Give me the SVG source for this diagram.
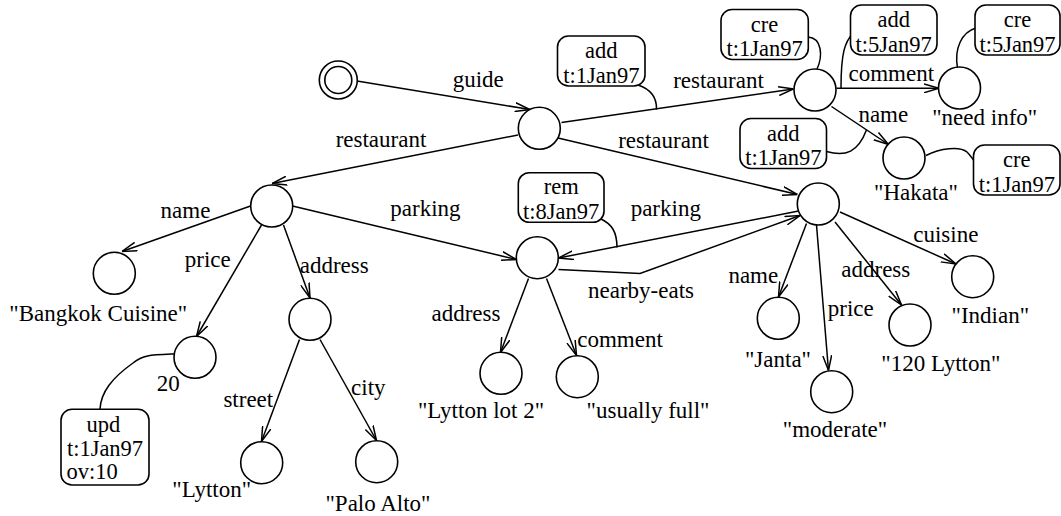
<svg xmlns="http://www.w3.org/2000/svg" width="1061" height="516" viewBox="0 0 1061 516">
<style>
text{font-family:"Times New Roman","Liberation Serif",Tinos,serif;font-size:23px;fill:#000;text-anchor:middle}
.bt{font-size:22.5px}
.n{fill:#fff;stroke:#000;stroke-width:1.6}
.b{fill:#fff;stroke:#000;stroke-width:1.6}
.e{fill:none;stroke:#000;stroke-width:1.5;marker-end:url(#arr)}
.a{fill:none;stroke:#000;stroke-width:1.5}
</style>
<defs>
<marker id="arr" viewBox="0 0 15 10" refX="15" refY="5" markerWidth="15" markerHeight="10" orient="auto" markerUnits="userSpaceOnUse">
<path d="M0,0.6 L15,5 L0,9.4" fill="none" stroke="#000" stroke-width="1.5"/>
</marker>
</defs>
<rect width="1061" height="516" fill="#fff"/>

<g id="connectors">
<path class="e" d="M357,81 L530,109.5"/>
<path class="e" d="M561.5,122.5 L793.5,89"/>
<path class="e" d="M518,135 L272,183.5"/>
<path class="e" d="M558,138 L797.5,194.5"/>
<path class="e" d="M836.5,88.3 L939,88.3"/>
<path class="e" d="M831.5,106.5 L888.5,144.5"/>
<path class="e" d="M250.5,206 L122,251.5"/>
<path class="e" d="M261.5,225 L196.5,336.5"/>
<path class="e" d="M283.5,225 L310,298"/>
<path class="e" d="M299.5,339.5 L261.5,441.5"/>
<path class="e" d="M320,339.5 L376.5,440.5"/>
<path class="e" d="M292.5,206 L516.5,259.5"/>
<path class="e" d="M798.5,211 L558.5,258"/>
<path class="e" d="M558.5,269.5 L640,273.5 L800,215.5"/>
<path class="e" d="M528.5,278.5 L500.5,352.5"/>
<path class="e" d="M546.5,278.5 L576.5,355.5"/>
<path class="e" d="M806.5,223.5 L778.5,297"/>
<path class="e" d="M816.5,225 L828.5,370.5"/>
<path class="e" d="M835,222 L901.5,305"/>
<path class="e" d="M840,212 L956,264"/>
</g>

<g id="annotation-links">
<path class="a" d="M638,85 C650,89 657,96 656.5,109.5"/>
<path class="a" d="M808,37 C822,38 823,56 817,69"/>
<path class="a" d="M853,33 C845,42 841,52 841,88.3"/>
<path class="a" d="M976,28 C962,32 954,48 957.5,68"/>
<path class="a" d="M826.5,151.5 C846,157 858,152 866.5,130"/>
<path class="a" d="M926,155.5 C940,148 960,146 967,152 C970,155 972,158 973.5,160"/>
<path class="a" d="M600,218.5 C612,224 617,232 617,247.5"/>
<path class="a" d="M174,354 C150,355 143,355 133,363 C112,378 101,392 100,409"/>
</g>

<g id="edge-labels">
<text x="478.3" y="87">guide</text>
<text x="381" y="146.7">restaurant</text>
<text x="718.5" y="88">restaurant</text>
<text x="663.5" y="148">restaurant</text>
<text x="891.3" y="81">comment</text>
<text x="883.3" y="121.7">name</text>
<text x="185.5" y="218.3">name</text>
<text x="207.8" y="267">price</text>
<text x="334.2" y="273.3">address</text>
<text x="248.3" y="406.7">street</text>
<text x="368.3" y="395">city</text>
<text x="425.5" y="216">parking</text>
<text x="665.8" y="216">parking</text>
<text x="641" y="298">nearby-eats</text>
<text x="466" y="320.7">address</text>
<text x="620" y="346.7">comment</text>
<text x="753.3" y="283.3">name</text>
<text x="850.8" y="316">price</text>
<text x="875.8" y="277.3">address</text>
<text x="945.8" y="241.7">cuisine</text>
</g>

<g id="root"><circle class="n" cx="338.3" cy="80" r="19"/><circle class="n" cx="338.3" cy="80" r="13.5"/></g>
<g id="guide"><circle class="n" cx="539.3" cy="128.3" r="21"/></g>
<g id="hakata-rest"><circle class="n" cx="815" cy="90" r="21"/></g>
<g id="need-info"><circle class="n" cx="959.5" cy="88" r="21"/><text x="984.7" y="125">"need info"</text></g>
<g id="hakata"><circle class="n" cx="904" cy="158" r="21"/><text x="916" y="200">"Hakata"</text></g>
<g id="janta-rest"><circle class="n" cx="818.3" cy="204" r="21"/></g>
<g id="parking-lot"><circle class="n" cx="537.3" cy="257.7" r="21"/></g>
<g id="bangkok-rest"><circle class="n" cx="271.7" cy="206" r="21"/></g>
<g id="bangkok-name"><circle class="n" cx="114.3" cy="273.3" r="21"/><text x="98.3" y="321">"Bangkok Cuisine"</text></g>
<g id="price-20"><circle class="n" cx="195" cy="357.3" r="21"/><text x="168.2" y="390.7">20</text></g>
<g id="bangkok-address"><circle class="n" cx="310" cy="319.3" r="21"/></g>
<g id="lytton"><circle class="n" cx="261.7" cy="462.7" r="21"/><text x="211.7" y="497">"Lytton"</text></g>
<g id="palo-alto"><circle class="n" cx="376.7" cy="461.7" r="21"/><text x="378" y="511">"Palo Alto"</text></g>
<g id="lytton-lot"><circle class="n" cx="501" cy="373.3" r="21"/><text x="481" y="418">"Lytton lot 2"</text></g>
<g id="usually-full"><circle class="n" cx="577.3" cy="376.7" r="21"/><text x="648" y="418">"usually full"</text></g>
<g id="janta"><circle class="n" cx="778.3" cy="318.3" r="21"/><text x="778" y="366.7">"Janta"</text></g>
<g id="moderate"><circle class="n" cx="831.7" cy="391.7" r="21"/><text x="835" y="436.7">"moderate"</text></g>
<g id="lytton-120"><circle class="n" cx="910" cy="325" r="21"/><text x="940.8" y="371">"120 Lytton"</text></g>
<g id="indian"><circle class="n" cx="972.7" cy="276.7" r="21"/><text x="990.3" y="323.3">"Indian"</text></g>

<g id="ann-add-guide"><rect class="b" x="557.5" y="36" width="87.5" height="50" rx="11"/><text class="bt" x="601.3" y="58">add</text><text class="bt" x="601.3" y="82.5">t:1Jan97</text></g>
<g id="ann-cre-hakata-rest"><rect class="b" x="721" y="9.5" width="87.3" height="50" rx="11"/><text class="bt" x="764.6" y="31.5">cre</text><text class="bt" x="764.6" y="56">t:1Jan97</text></g>
<g id="ann-add-comment"><rect class="b" x="850.5" y="5" width="86.5" height="50" rx="11"/><text class="bt" x="893.7" y="27">add</text><text class="bt" x="893.7" y="51.5">t:5Jan97</text></g>
<g id="ann-cre-need-info"><rect class="b" x="975" y="5" width="85" height="50" rx="11"/><text class="bt" x="1017.5" y="27">cre</text><text class="bt" x="1017.5" y="51.5">t:5Jan97</text></g>
<g id="ann-add-name"><rect class="b" x="740" y="118.5" width="86.5" height="50" rx="11"/><text class="bt" x="783.3" y="140.5">add</text><text class="bt" x="783.3" y="165">t:1Jan97</text></g>
<g id="ann-cre-hakata"><rect class="b" x="973.5" y="145" width="86.5" height="50" rx="11"/><text class="bt" x="1016.8" y="167">cre</text><text class="bt" x="1016.8" y="191.5">t:1Jan97</text></g>
<g id="ann-rem-parking"><rect class="b" x="518.3" y="172.7" width="85.7" height="49.6" rx="11"/><text class="bt" x="561.2" y="194">rem</text><text class="bt" x="561.2" y="219">t:8Jan97</text></g>
<g id="ann-upd-price"><rect class="b" x="61" y="409.3" width="88" height="75.7" rx="11"/><text class="bt" x="103.3" y="432">upd</text><text class="bt" x="105" y="456">t:1Jan97</text><text class="bt" x="66.5" y="478.5" style="text-anchor:start">ov:10</text></g>
</svg>
